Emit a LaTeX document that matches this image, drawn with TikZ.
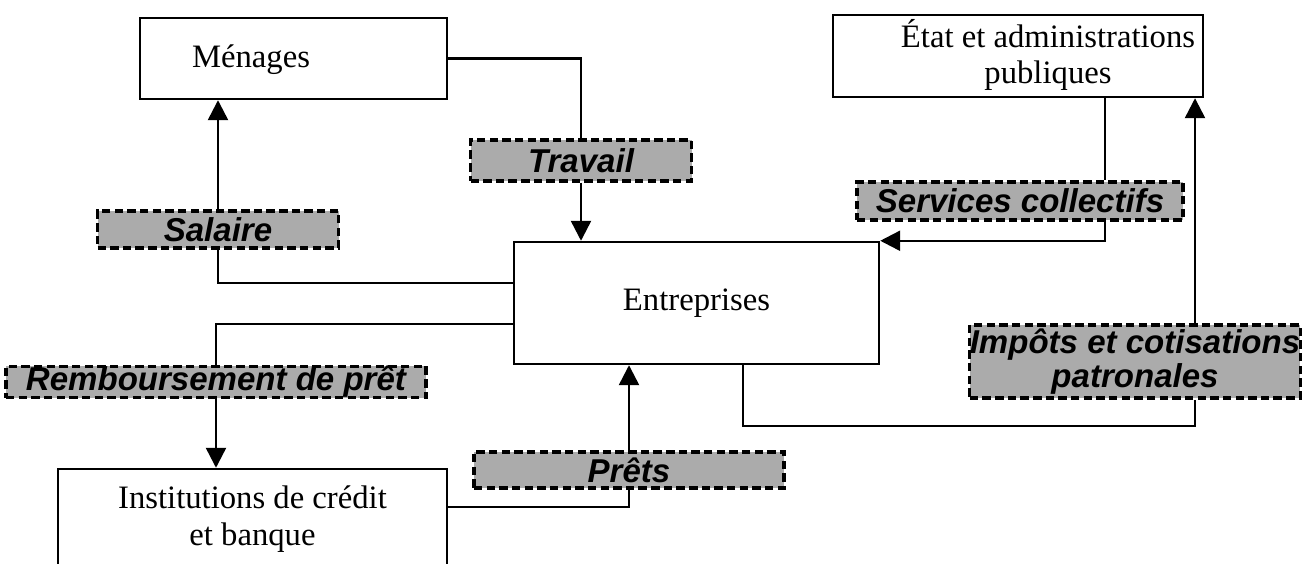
\documentclass[tikz,border=0pt]{standalone}
\usepackage{fontspec}
\setmainfont{Liberation Serif}
\newfontfamily\lblfont{Liberation Sans}
\usetikzlibrary{arrows.meta}

\begin{document}
\begin{tikzpicture}[
    txt/.style={inner sep=0pt, font=\fontsize{9.3}{10.5}\selectfont},
    box/.style={draw, line width=0.7pt, inner sep=0pt, font=\fontsize{9.3}{10.5}\selectfont},
    flux/.style={draw, dash pattern=on 2.4pt off 1.2pt, line width=0.9pt, fill=black!33,
      inner sep=0pt, align=center, font=\lblfont\bfseries\itshape\fontsize{9.4}{9.6}\selectfont},
    trait/.style={line width=0.7pt},
    fleche/.style={line width=0.7pt, -{Triangle[length=0.2cm,width=0.2cm]}}
  ]
    \useasboundingbox (0,0) rectangle (13.08,-5.64);

    % 绘制四个方框
    \node[box, minimum width=3.07cm, minimum height=0.81cm] (menages) at (2.935,-0.585) {};
    \node[txt] (menagestxt) at (2.51,-0.60) {Ménages};
    \node[box, minimum width=3.70cm, minimum height=0.82cm] (etat) at (10.18,-0.56) {};
    \node[txt, align=center] (etattxt) at (10.48,-0.55) {État et administrations\\publiques};
    \node[box, minimum width=3.65cm, minimum height=1.22cm] (entreprises) at (6.965,-3.03) {Entreprises};
    \node[box, minimum width=3.89cm, minimum height=1.01cm, align=center] (institutions) at (2.525,-5.195) {Institutions de crédit\\et banque};

    % 绘制灰色标签
    \node[flux, minimum width=2.21cm, minimum height=0.41cm] (travail) at (5.81,-1.605) {Travail};
    \node[flux, minimum width=2.41cm, minimum height=0.37cm] (salaire) at (2.18,-2.295) {Salaire};
    \node[flux, minimum width=4.20cm, minimum height=0.26cm] (remb) at (2.16,-3.82) {Remboursement de prêt};
    \node[flux, minimum width=3.10cm, minimum height=0.36cm] (prets) at (6.29,-4.70) {Prêts};
    \node[flux, minimum width=3.26cm, minimum height=0.38cm] (services) at (10.20,-2.01) {Services collectifs};
    \node[flux, minimum width=3.20cm, minimum height=0.73cm] (impots) at (11.35,-3.615) {Impôts et cotisations\\patronales};

    % 绘制箭头
    \draw[trait] (menages.east) -| (travail.north);
    \draw[fleche] (travail.south) -- (travail.south |- entreprises.north);
    \draw[trait] ([yshift=0.2cm]entreprises.west) -| (salaire.south);
    \draw[fleche] (salaire.north) -- (salaire.north |- menages.south);
    \draw[trait] ([yshift=-0.21cm]entreprises.west) -| (remb.north);
    \draw[fleche] (remb.south) -- (remb.south |- institutions.north);
    \draw[trait] ([yshift=0.125cm]institutions.east) -| (prets.south);
    \draw[fleche] (prets.north) -- (prets.north |- entreprises.south);

    \coordinate (svc) at ([xshift=-0.99cm]etat.south east);
    \draw[trait] (svc) -- (svc |- services.north);
    \draw[fleche] (svc |- services.south) |- (entreprises.north east);

    \coordinate (coin) at (11.95,-4.26);
    \draw[trait] ([xshift=0.465cm]entreprises.south) |- (coin) -- (coin |- impots.south);
    \draw[fleche] (coin |- impots.north) -- (coin |- etat.south);

\end{tikzpicture}
\end{document}
